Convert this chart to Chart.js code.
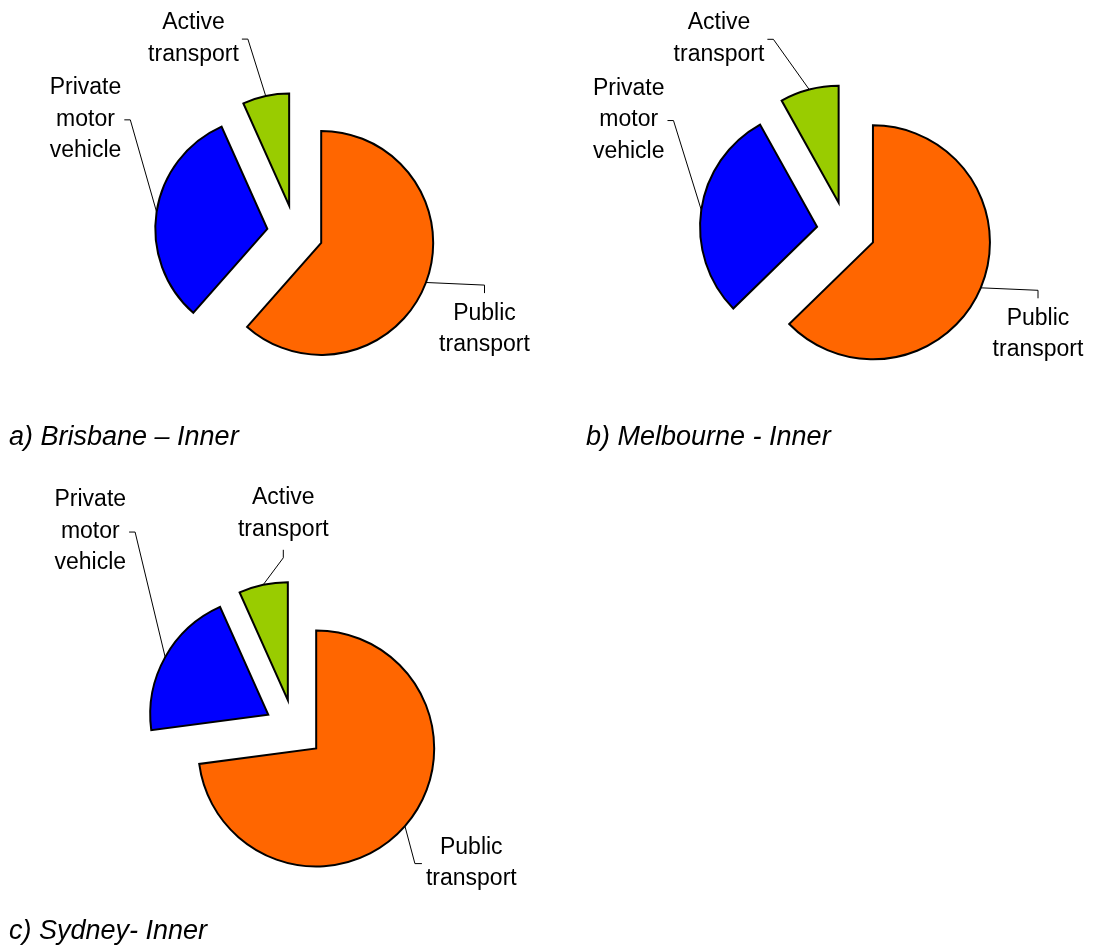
<!DOCTYPE html>
<html>
<head>
<meta charset="utf-8">
<title>Inner city mode share</title>
<script src="https://cdn.jsdelivr.net/npm/chart.js@4"></script>
<style>
  body {
    margin: 0;
    width: 1093px;
    height: 946px;
    position: relative;
    overflow: hidden;
    background: #fff;
    font-family: "Liberation Sans", Arial, sans-serif;
  }
  canvas { position: absolute; }
  .caption {
    position: absolute;
    font-style: italic;
    font-size: 27px;
    line-height: 27px;
    white-space: nowrap;
    color: #000;
  }
</style>
</head>
<body>

<canvas id="brisbane" width="520" height="520"></canvas>
<canvas id="melbourne" width="520" height="520"></canvas>
<canvas id="sydney" width="520" height="520"></canvas>

<script>
// mode share of trips (%), order: public, private, active
const categories = ['Public transport', 'Private motor vehicle', 'Active transport'];
const categoryLines = [['Public', 'transport'], ['Private', 'motor', 'vehicle'], ['Active', 'transport']];
const brisbaneShares = [61.5, 31.8, 6.7];
const melbourneShares = [62.7, 29.2, 8.1];
const sydneyShares = [72.9, 20.4, 6.7];
const panelTitles = ['a) Brisbane – Inner', 'b) Melbourne - Inner', 'c) Sydney- Inner'];

const sliceColours = ['#ff6600', '#0000ff', '#99cc00'];
const CANVAS_SIZE = 520;
const LABEL_FONT = '23px "Liberation Sans", Arial, sans-serif';
const LINE_HEIGHT = 31.5;

// page position of each pie and its labels
const panels = [
  {
    id: 'brisbane', shares: brisbaneShares, title: panelTitles[0],
    cx: 294.5, cy: 233.4, radius: 112, titleX: 9, titleY: 422.5,
    labels: [
      { x: 484, y: 320, side: 'top' },
      { x: 85, y: 94.5, side: 'right' },
      { x: 193, y: 29.5, side: 'right' }
    ]
  },
  {
    id: 'melbourne', shares: melbourneShares, title: panelTitles[1],
    cx: 846, cy: 231.2, radius: 117, titleX: 586, titleY: 422.5,
    labels: [
      { x: 1038, y: 325, side: 'top' },
      { x: 628.7, y: 95, side: 'right' },
      { x: 719, y: 29.5, side: 'right' }
    ]
  },
  {
    id: 'sydney', shares: sydneyShares, title: panelTitles[2],
    cx: 293.7, cy: 728.7, radius: 118, titleX: 9, titleY: 917,
    labels: [
      { x: 471, y: 853.3, side: 'left' },
      { x: 90, y: 506, side: 'right' },
      { x: 283, y: 504, side: 'bottom' }
    ]
  }
];

// pull every slice out from the centre along its bisector
const explodePlugin = {
  id: 'explode',
  afterDatasetUpdate(chart, args, opts) {
    const frac = opts.fraction || 0;
    args.meta.data.forEach(arc => {
      const mid = (arc.startAngle + arc.endAngle) / 2;
      const d = arc.outerRadius * frac;
      arc.x += Math.cos(mid) * d;
      arc.y += Math.sin(mid) * d;
    });
  }
};

// category labels with leader lines back to the slice
const leaderLabels = {
  id: 'leaderLabels',
  afterDatasetsDraw(chart, args, opts) {
    const ctx = chart.ctx;
    const meta = chart.getDatasetMeta(0);
    const specs = opts.labels || [];
    ctx.save();
    ctx.font = LABEL_FONT;
    ctx.fillStyle = '#000';
    ctx.strokeStyle = '#000';
    ctx.lineWidth = 1;
    ctx.textAlign = 'center';
    ctx.textBaseline = 'alphabetic';

    specs.forEach((spec, i) => {
      const arc = meta.data[i];
      if (!arc) return;
      const lines = categoryLines[i];
      const x = spec.x - opts.left;
      const y0 = spec.y - opts.top;
      const widest = Math.max(...lines.map(l => ctx.measureText(l).width));
      const lastBase = y0 + (lines.length - 1) * LINE_HEIGHT;
      const midY = (y0 - 16.5 + lastBase + 5) / 2;

      let attach, elbow;
      if (spec.side === 'right') {
        attach = [x + widest / 2 + 3, midY];
        elbow = [attach[0] + 6, midY];
      } else if (spec.side === 'left') {
        attach = [x - widest / 2 - 4, midY];
        elbow = [attach[0] - 7, midY];
      } else if (spec.side === 'top') {
        attach = [x, y0 - 16.5 - 10];
        elbow = [x, attach[1] - 8];
      } else {
        attach = [x, lastBase + 14];
        elbow = [x, attach[1] + 8];
      }

      const mid = (arc.startAngle + arc.endAngle) / 2;
      const px = arc.x + Math.cos(mid) * arc.outerRadius;
      const py = arc.y + Math.sin(mid) * arc.outerRadius;

      ctx.beginPath();
      ctx.moveTo(px, py);
      ctx.lineTo(elbow[0], elbow[1]);
      ctx.lineTo(attach[0], attach[1]);
      ctx.stroke();

      lines.forEach((l, k) => ctx.fillText(l, x, y0 + k * LINE_HEIGHT));
    });
    ctx.restore();
  }
};

panels.forEach(p => {
  const canvas = document.getElementById(p.id);
  const left = p.cx - CANVAS_SIZE / 2;
  const top = p.cy - CANVAS_SIZE / 2;
  canvas.style.left = left + 'px';
  canvas.style.top = top + 'px';

  new Chart(canvas, {
    type: 'pie',
    data: {
      labels: categories,
      datasets: [{
        data: p.shares,
        backgroundColor: sliceColours,
        borderColor: '#000',
        borderWidth: 2,
        borderJoinStyle: 'miter'
      }]
    },
    options: {
      responsive: false,
      animation: false,
      events: [],
      radius: p.radius,
      layout: { padding: 0 },
      plugins: {
        legend: { display: false },
        tooltip: { enabled: false },
        explode: { fraction: 0.25 },
        leaderLabels: { labels: p.labels, left: left, top: top }
      }
    },
    plugins: [explodePlugin, leaderLabels]
  });

  const cap = document.createElement('div');
  cap.className = 'caption';
  cap.textContent = p.title;
  cap.style.left = p.titleX + 'px';
  cap.style.top = p.titleY + 'px';
  document.body.appendChild(cap);
});
</script>
</body>
</html>
